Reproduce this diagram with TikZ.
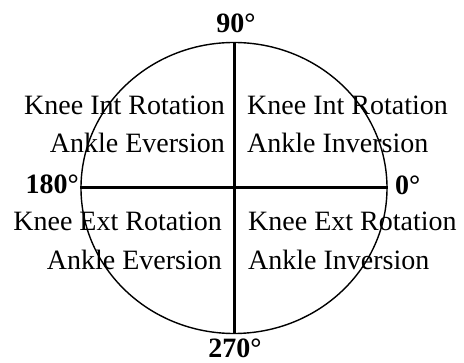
\documentclass[tikz,border=0pt]{standalone}
\usepackage{fontspec}
\setmainfont{Liberation Serif}
\usetikzlibrary{positioning,shapes.geometric}

\begin{document}
\begin{tikzpicture}[
  x=1pt, y=-1pt,
  lbl/.style={inner sep=0pt, font=\fontsize{28}{34}\selectfont},
  deg/.style={inner sep=0pt, font=\fontsize{28}{34}\selectfont\bfseries},
  axis/.style={line width=3pt},
  ring/.style={draw, ellipse, line width=1.4pt, inner sep=0pt,
               minimum width=306pt, minimum height=291pt}
]
\useasboundingbox (0,0) rectangle (464,363);
\node[ring] (rg) at (234,188) {};
\draw[axis] (rg.north) -- (rg.south);
\draw[axis] (rg.west) -- (rg.east);

% quadrant texts
\node[lbl, anchor=base east] (kiL) at (225,115) {Knee Int Rotation};
\node[lbl, anchor=base east] (aeU) at (225,153) {Ankle Eversion};
\node[lbl, anchor=base west] (kiR) at (247,115) {Knee Int Rotation};
\node[lbl, anchor=base west] (aiU) at (247,153) {Ankle Inversion};
\node[lbl, anchor=base east] (keL) at (222,231) {Knee Ext Rotation};
\node[lbl, anchor=base east] (aeD) at (222,270) {Ankle Eversion};
\node[lbl, anchor=base west] (keR) at (248,231) {Knee Ext Rotation};
\node[lbl, anchor=base west] (aiD) at (248,270) {Ankle Inversion};

% angles
\node[deg, anchor=base] (d90) at (236,33) {90°};
\node[deg, anchor=base east] (d180) at (79,194) {180°};
\node[deg, anchor=base west] (d0) at (395,195) {0°};
\node[deg, anchor=base] (d270) at (235,358) {270°};
\end{tikzpicture}
\end{document}
